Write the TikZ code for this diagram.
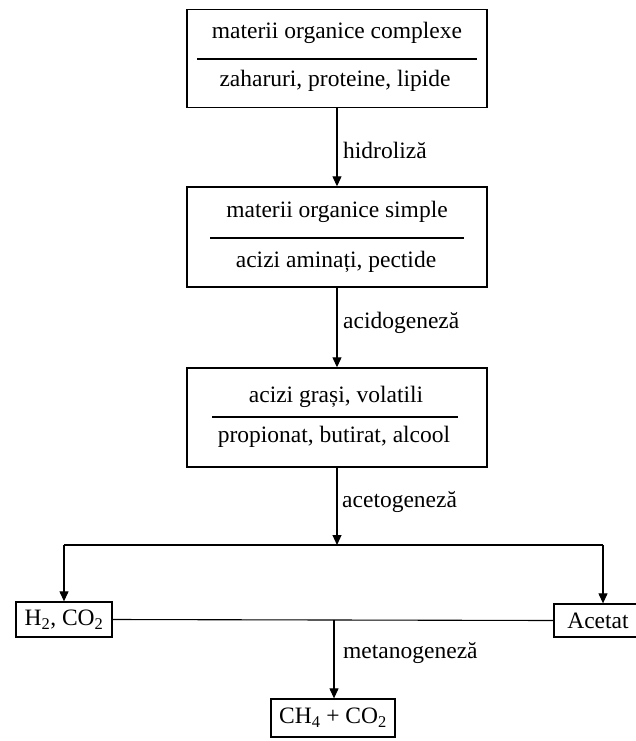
\documentclass[tikz,border=0pt]{standalone}
\usepackage{fontspec}
\setmainfont{Liberation Serif}
\usetikzlibrary{arrows.meta}
\begin{document}
\begin{tikzpicture}[x=1pt,y=-1pt,
  every node/.style={font=\fontsize{23.5}{28}\selectfont},
  stage/.style={draw, line width=1.4pt, minimum width=300pt, minimum height=98pt, inner sep=0pt},
  product/.style={draw, line width=1.3pt, inner sep=0pt},
  txt/.style={inner sep=0pt, anchor=center},
  lbl/.style={inner sep=0pt, anchor=west},
  rule/.style={line width=1.3pt},
  wire/.style={line width=1.1pt},
  flow/.style={line width=1.1pt, -{Triangle[width=9pt,length=10pt]}}]
\clip (0,0) rectangle (636,741);

% stage 1
\node[stage] (b1) at (337,58.5) {};
\node[txt] (b1a) at (337,33) {materii organice complexe};
\node[txt] (b1b) at (335,81) {zaharuri, proteine, lipide};
\draw[rule] (197,59) -- (477,59);

% stage 2
\node[stage, minimum height=100pt] (b2) at (337,237) {};
\node[txt] (b2a) at (337,212) {materii organice simple};
\node[txt] (b2b) at (336,262) {acizi aminați, pectide};
\draw[rule] (210,238) -- (464,238);

% stage 3
\node[stage, minimum height=99pt] (b3) at (337,417.5) {};
\node[txt] (b3a) at (336,397) {acizi grași, volatili};
\node[txt] (b3b) at (334,437) {propionat, butirat, alcool};
\draw[rule] (212,417) -- (458,417);

% final products
\node[product, minimum width=96pt, minimum height=35pt] (h2) at (64,619.5) {H\textsubscript{2}, CO\textsubscript{2}};
\node[product, minimum width=88pt, minimum height=33pt] (ac) at (598,620.5) {Acetat};
\node[product, minimum width=124pt, minimum height=38pt] (ch4) at (333,718) {CH\textsubscript{4} + CO\textsubscript{2}};

% process arrows
\draw[flow] (b1.south) -- (b2.north);
\node[lbl] (l1) at (343,150) {hidroliză};
\draw[flow] (b2.south) -- (b3.north);
\node[lbl] (l2) at (343,323) {acidogeneză};

\coordinate (split) at (337,545);
\coordinate (lt) at (64,545);
\coordinate (rt) at (603,545);
\draw[flow] (b3.south) -- (split);
\node[lbl] (l3) at (342,502) {acetogeneză};
\draw[wire] (lt) -- (rt);
\draw[flow] (lt) -- (lt |- h2.north);
\draw[flow] (rt) -- (rt |- ac.north);

\draw[wire] (h2.east) -- (ac.west);
\coordinate (m) at (334,620);
\draw[flow] (m) -- (m |- ch4.north);
\node[lbl] (l4) at (343,653) {metanogeneză};
\end{tikzpicture}
\end{document}
